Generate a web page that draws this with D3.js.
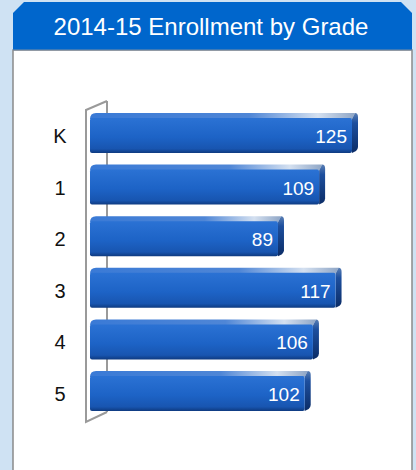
<!DOCTYPE html>
<html>
<head>
<meta charset="utf-8">
<script src="https://cdn.jsdelivr.net/npm/d3@7"></script>
<style>
  html, body { margin: 0; padding: 0; background: #cfe2f3; }
  svg { display: block; }
</style>
</head>
<body>
<script>
// chart data
const grades = ['K', '1', '2', '3', '4', '5'];
const enrollment = [125, 109, 89, 117, 106, 102];
const chartTitle = '2014-15 Enrollment by Grade';

const W = 416, H = 470;
const svg = d3.select('body').append('svg')
    .attr('width', W)
    .attr('height', H);

const defs = svg.append('defs');

// gradients for the 3d bars
const frontGrad = defs.append('linearGradient').attr('id', 'front')
    .attr('x1', 0).attr('y1', 0).attr('x2', 0).attr('y2', 1);
frontGrad.append('stop').attr('offset', '0%').attr('stop-color', '#2b72d4');
frontGrad.append('stop').attr('offset', '55%').attr('stop-color', '#1d63c6');
frontGrad.append('stop').attr('offset', '88%').attr('stop-color', '#1855b0');
frontGrad.append('stop').attr('offset', '100%').attr('stop-color', '#0e3a80');

const topGrad = defs.append('linearGradient').attr('id', 'topface')
    .attr('x1', 0).attr('y1', 0).attr('x2', 1).attr('y2', 0);
topGrad.append('stop').attr('offset', '0%').attr('stop-color', '#3a7ad6');
topGrad.append('stop').attr('offset', '60%').attr('stop-color', '#4f86d6');
topGrad.append('stop').attr('offset', '86%').attr('stop-color', '#d4e0f0');
topGrad.append('stop').attr('offset', '100%').attr('stop-color', '#8fa6c6');

const sideGrad = defs.append('linearGradient').attr('id', 'side')
    .attr('x1', 0).attr('y1', 0).attr('x2', 0).attr('y2', 1);
sideGrad.append('stop').attr('offset', '0%').attr('stop-color', '#5a7fb4');
sideGrad.append('stop').attr('offset', '25%').attr('stop-color', '#1d4f9e');
sideGrad.append('stop').attr('offset', '100%').attr('stop-color', '#0b2c66');

// panel
const px0 = 13, px1 = 412, hy0 = 2, hy1 = 50, cut = 11;
svg.append('rect')
    .attr('x', px0).attr('y', hy1)
    .attr('width', px1 - px0).attr('height', H - hy1 + 5)
    .attr('fill', '#fff')
    .attr('stroke', '#8a8a8a').attr('stroke-width', 1.5);

svg.append('path')
    .attr('d', `M${px0},${hy1} L${px0},${hy0 + cut} L${px0 + cut},${hy0} L${px1 - cut},${hy0} L${px1},${hy0 + cut} L${px1},${hy1} Z`)
    .attr('fill', '#0066cc');

svg.append('line')
    .attr('x1', px0).attr('x2', px1)
    .attr('y1', hy1).attr('y2', hy1)
    .attr('stroke', '#7d8ea3').attr('stroke-width', 1);

svg.append('text')
    .attr('x', 211).attr('y', 35)
    .attr('text-anchor', 'middle')
    .attr('fill', '#fff')
    .style('font-family', '"Liberation Sans", Arial, sans-serif')
    .style('font-size', '24px')
    .text(chartTitle);

// scales
const x = d3.scaleLinear().domain([0, 125]).range([101, 358]);
const y = d3.scaleBand().domain(grades).range([113, 411]).paddingInner(0.225);
const bx = 90;      // bar front face start
const dep = 6;      // depth of bar bevel

// axis wall
const wall = svg.append('g')
    .attr('fill', 'none')
    .attr('stroke', '#9a9a9a')
    .attr('stroke-width', 2);
wall.append('path').attr('d', 'M107,101 L107,412');
wall.append('path').attr('d', 'M107,101 L86,110 L86,422 L107,412');

// bars
const data = grades.map((g, i) => ({ grade: g, value: enrollment[i] }));

const bars = svg.selectAll('.bar')
    .data(data)
    .enter().append('g')
    .attr('class', 'bar');

bars.append('path')
    .attr('d', d => {
        const t = y(d.grade), xe = x(d.value);
        return `M${bx},${t + dep} Q${bx},${t} ${bx + dep},${t} L${xe - 3},${t} L${xe - dep},${t + dep} Z`;
    })
    .attr('fill', 'url(#topface)');

bars.append('path')
    .attr('d', d => {
        const t = y(d.grade), b = t + y.bandwidth(), xe = x(d.value);
        return `M${xe - dep},${t + dep} L${xe - 3},${t} Q${xe},${t} ${xe},${t + 4} L${xe},${b - 6} Q${xe},${b - 4} ${xe - 2},${b - 2} L${xe - dep},${b} Z`;
    })
    .attr('fill', 'url(#side)');

bars.append('rect')
    .attr('x', bx)
    .attr('y', d => y(d.grade) + dep - 1)
    .attr('width', d => x(d.value) - dep - bx)
    .attr('height', y.bandwidth() - dep + 1)
    .attr('rx', 2)
    .attr('fill', 'url(#front)');

// value labels
bars.append('text')
    .attr('x', d => x(d.value) - 11)
    .attr('y', d => y(d.grade) + dep + (y.bandwidth() - dep) / 2 + 7)
    .attr('text-anchor', 'end')
    .attr('fill', '#fff')
    .style('font-family', '"Liberation Sans", Arial, sans-serif')
    .style('font-size', '19px')
    .text(d => d.value);

// category labels
svg.selectAll('.cat')
    .data(grades)
    .enter().append('text')
    .attr('class', 'cat')
    .attr('x', 60)
    .attr('y', d => y(d) + y.bandwidth() / 2 + 10)
    .attr('text-anchor', 'middle')
    .attr('fill', '#111')
    .style('font-family', '"Liberation Sans", Arial, sans-serif')
    .style('font-size', '20px')
    .text(d => d);
</script>
</body>
</html>
